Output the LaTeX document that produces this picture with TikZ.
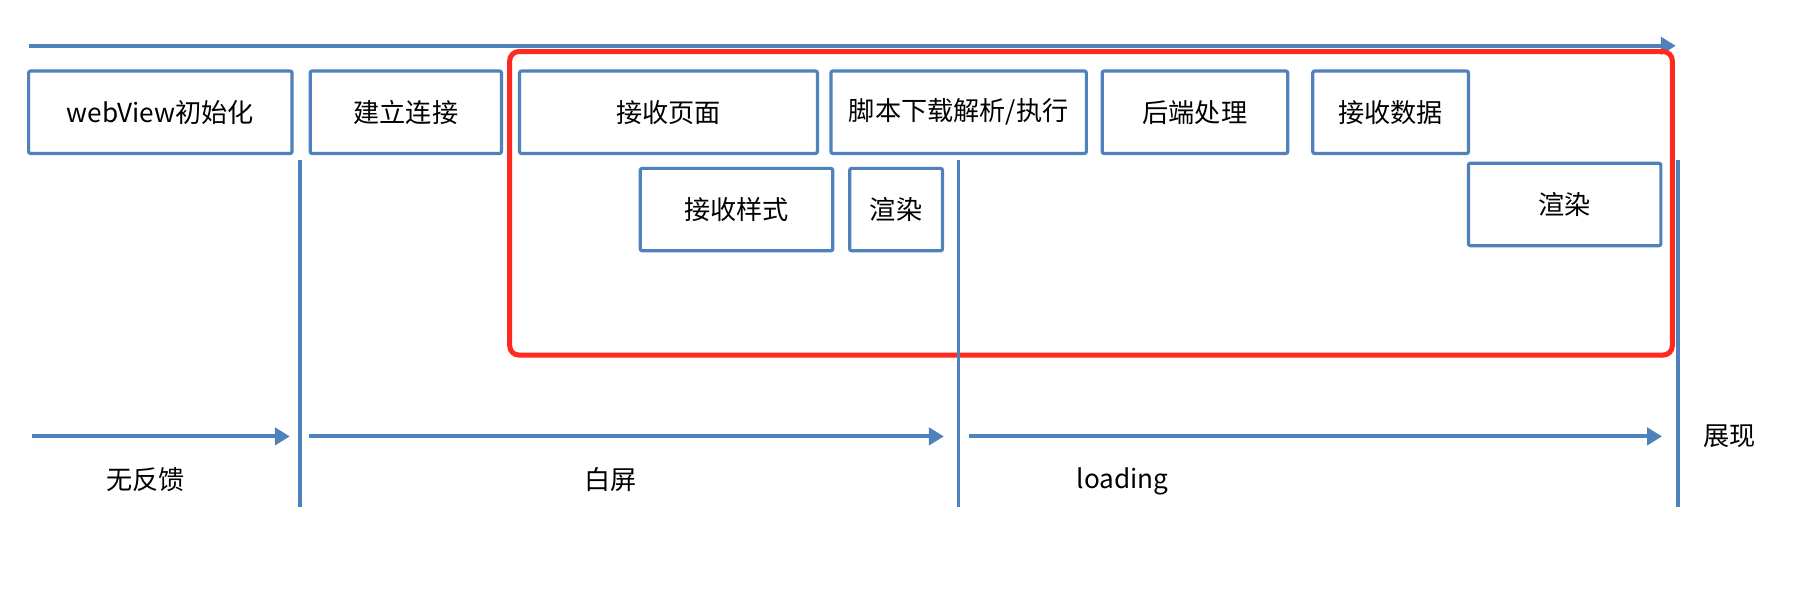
\documentclass[tikz,border=0pt]{standalone}
\usepackage{fontspec}
\setmainfont{Noto Sans CJK SC}
\usepackage{xcolor}
\usetikzlibrary{arrows.meta, positioning}
\definecolor{lineblue}{HTML}{4F81BD}
\definecolor{markred}{HTML}{FF2A1F}
\tikzstyle{stage} = [rectangle, rounded corners=1pt, draw=lineblue, line width=1.6pt, minimum height=1.44cm, inner sep=0pt, text centered, font=\fontsize{13}{15}\selectfont]
\tikzstyle{timeline} = [draw=lineblue, line width=2pt, -{Triangle[length=0.26cm, width=0.3cm]}]
\tikzstyle{divider} = [draw=lineblue, line width=1.6pt]
\tikzstyle{phase} = [font=\fontsize{13}{15}\selectfont]

\begin{document}
\begin{tikzpicture}[node distance=0.3cm and 0.3cm]
    \useasboundingbox[fill=white] (0,0) rectangle (31.36,-10.4);

    % overall time axis
    \coordinate (tstart) at (0.5,-0.8);
    \coordinate (tend) at (29.26,-0.8);
    \draw[timeline] (tstart) -- (tend);

    % loading steps
    \node[stage, minimum width=4.6cm] (init) at (2.8,-1.96) {webView初始化};
    \node[stage, minimum width=3.34cm, right=0.26cm of init] (conn) {建立连接};
    \node[stage, minimum width=5.2cm, right=0.26cm of conn] (page) {接收页面};
    \node[stage, minimum width=4.46cm, right=0.18cm of page] (script) {脚本下载解析/执行};
    \node[stage, minimum width=3.24cm, right=0.22cm of script] (backend) {后端处理};
    \node[stage, minimum width=2.72cm, right=0.38cm of backend] (data) {接收数据};

    \node[stage, minimum width=3.36cm] (css) at (12.86,-3.66) {接收样式};
    \node[stage, minimum width=1.62cm, right=0.24cm of css] (paint) {渲染};
    \node[stage, minimum width=3.36cm] (repaint) at (27.32,-3.57) {渲染};

    % highlighted part
    \draw[markred, line width=2.5pt, rounded corners=0.16cm] (8.9,-0.9) rectangle (29.2,-6.2);

    % phase borders
    \coordinate (cuta) at (5.24,-2.8);
    \coordinate (cutaend) at (5.24,-8.86);
    \coordinate (cutb) at (16.74,-2.8);
    \coordinate (cutbend) at (16.74,-8.86);
    \coordinate (cutc) at (29.3,-2.8);
    \coordinate (cutcend) at (29.3,-8.86);
    \draw[divider] (cuta) -- (cutaend);
    \draw[divider] (cutb) -- (cutbend);
    \draw[divider] (cutc) -- (cutcend);

    % phases as seen by the user
    \coordinate (ua) at (0.56,-7.62);
    \coordinate (uaend) at (5.06,-7.62);
    \coordinate (ub) at (5.4,-7.62);
    \coordinate (ubend) at (16.48,-7.62);
    \coordinate (uc) at (16.92,-7.62);
    \coordinate (ucend) at (29.02,-7.62);
    \draw[timeline] (ua) -- (uaend);
    \draw[timeline] (ub) -- (ubend);
    \draw[timeline] (uc) -- (ucend);

    \node[phase] (nofeedback) at (2.54,-8.38) {无反馈};
    \node[phase] (blank) at (10.66,-8.38) {白屏};
    \node[phase] (loading) at (19.6,-8.4) {loading};
    \node[phase] (shown) at (30.2,-7.62) {展现};
\end{tikzpicture}
\end{document}
